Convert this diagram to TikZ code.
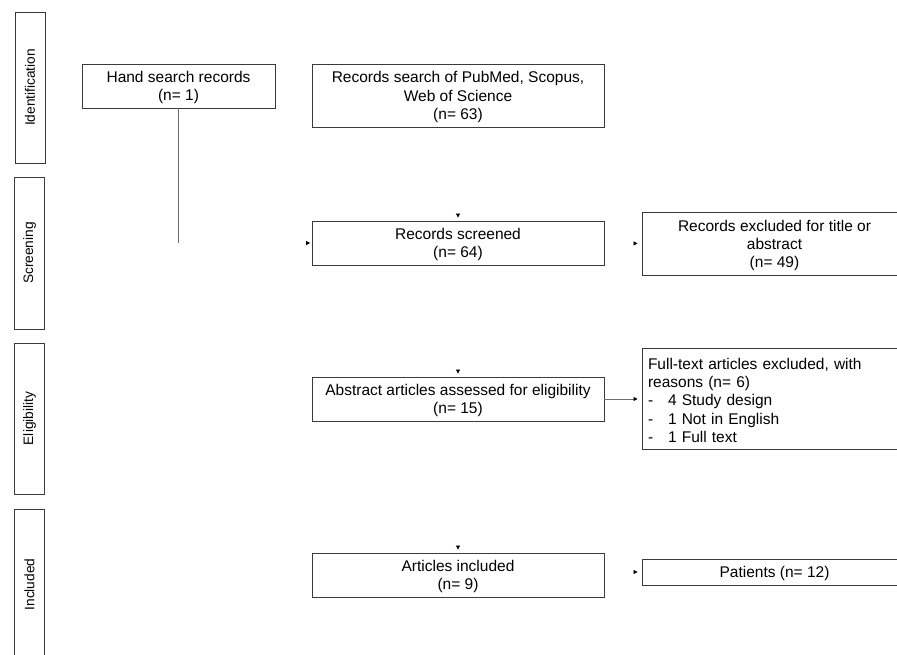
\documentclass[tikz,border=0pt]{standalone}
\usepackage{fontspec}
\setmainfont{Liberation Sans}
\usetikzlibrary{arrows.meta}
\definecolor{boxline}{HTML}{3A3A3A}
\definecolor{conn}{HTML}{6E6E6E}
\newcommand{\topstrut}{\rule{0pt}{14.8pt}}
\begin{document}
\begin{tikzpicture}[x=1pt,y=-1pt,
  box/.style={draw=boxline, line width=0.9pt, inner sep=0pt, align=center,
    font=\fontsize{15.5}{18.3}\selectfont},
  lane/.style={draw=boxline, line width=0.9pt, inner sep=0pt, minimum width=30pt,
    font=\fontsize{13.7}{16}\selectfont},
  lanetext/.style={rotate=90, inner sep=0pt, font=\fontsize{13.7}{16}\selectfont},
  tip/.style={-{Triangle[length=4pt,width=4pt,color=black]}},
  ghost/.style={tip, draw=white, line width=0.8pt, shorten <=2pt},
  visline/.style={draw=conn, line width=0.9pt}
]
\useasboundingbox (0,0) rectangle (897,654);
\clip (0,0) rectangle (897,654);
\fill[white] (0,0) rectangle (897,654);

% lanes
\node[lane, minimum height=151pt] (lid) at (30,87.5) {};
\node[lanetext] (tid) at (lid.center) {Identification};
\node[lane, minimum height=152pt] (lsc) at (29.5,253) {};
\node[lanetext] (tsc) at (lsc.center) {Screening};
\node[lane, minimum height=151pt] (lel) at (29.5,418.5) {};
\node[lanetext] (tel) at (lel.center) {Eligibility};
\node[lane, minimum height=151pt] (lin) at (29.5,584.5) {};
\node[lanetext] (tin) at (lin.center) {Included};

% boxes
\node[box, minimum width=193pt, minimum height=44pt] (hand) at (178.5,86)
  {\topstrut Hand search records\\(n= 1)};
\node[box, minimum width=292pt, minimum height=63pt] (search) at (458,95.5)
  {\topstrut Records search of PubMed, Scopus,\\Web of Science\\(n= 63)};
\node[box, minimum width=292pt, minimum height=44pt] (screened) at (458,243)
  {\topstrut Records screened\\(n= 64)};
\node[box, minimum width=265pt, minimum height=63pt] (excl) at (774.5,243.5)
  {\topstrut Records excluded for title or\\abstract\\(n= 49)};
\node[box, minimum width=292pt, minimum height=44pt] (abstract) at (458,399)
  {\topstrut Abstract articles assessed for eligibility\\(n= 15)};
\node[box, minimum width=265pt, minimum height=101pt, text width=253pt,
  align=left, inner xsep=6pt] (full) at (774.5,398.5)
  {\topstrut Full-text articles excluded, with\\reasons (n= 6)\\
   \makebox[20pt][l]{-}4 Study design\\
   \makebox[20pt][l]{-}1 Not in English\\
   \makebox[20pt][l]{-}1 Full text};
\node[box, minimum width=292pt, minimum height=44pt] (included) at (458,575)
  {\topstrut Articles included\\(n= 9)};
\node[box, minimum width=265pt, minimum height=26pt] (patients) at (774.5,572)
  {\topstrut Patients (n= 12)};

% connectors
\coordinate (hs) at (hand.south |- screened.west);
\draw[visline] (hand.south) -- (hs);
\draw[ghost, shorten >=1.5pt] (hs) -- (screened.west);
\draw[ghost, shorten >=3pt] (search.south) -- (screened.north);
\draw[ghost, shorten >=3pt] (screened.south) -- (abstract.north);
\draw[ghost, shorten >=3pt] (abstract.south) -- (included.north);
\draw[ghost, shorten >=4pt] (screened.east) -- (excl.west);
\draw[visline, tip, shorten >=4pt] (abstract.east) -- (abstract.east -| full.west);
\draw[ghost, shorten >=4pt] (included.east |- patients.west) -- (patients.west);
\end{tikzpicture}
\end{document}
